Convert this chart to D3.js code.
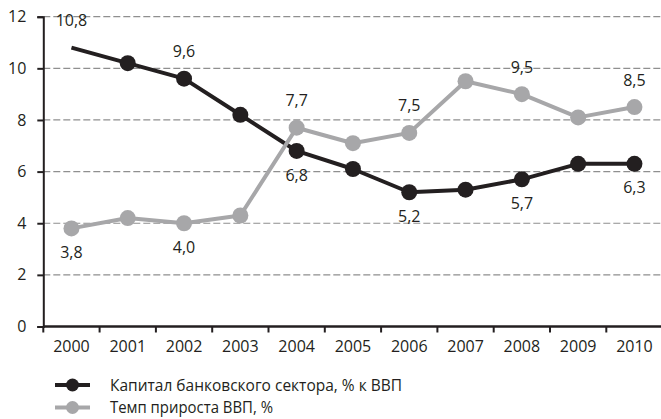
<!DOCTYPE html>
<html>
<head>
<meta charset="utf-8">
<script src="https://cdn.jsdelivr.net/npm/d3@7"></script>
<style>
  body { margin: 0; background: #fff; }
  svg { display: block; font-family: "Open Sans", sans-serif; }
</style>
</head>
<body>
<svg id="chart" width="661" height="419"></svg>
<script>
// data
const years = ["2000", "2001", "2002", "2003", "2004", "2005", "2006", "2007", "2008", "2009", "2010"];
const capital = [10.8, 10.2, 9.6, 8.2, 6.8, 6.1, 5.2, 5.3, 5.7, 6.3, 6.3];
const gdp = [3.8, 4.2, 4.0, 4.3, 7.7, 7.1, 7.5, 9.5, 9.0, 8.1, 8.5];
// printed value labels (only every other year is labelled)
const capitalLabels = ["10,8", null, "9,6", null, "6,8", null, "5,2", null, "5,7", null, "6,3"];
const gdpLabels = ["3,8", null, "4,0", null, "7,7", null, "7,5", null, "9,5", null, "8,5"];
const yTicks = [0, 2, 4, 6, 8, 10, 12];
const seriesNames = ["Капитал банковского сектора, % к ВВП", "Темп прироста ВВП, %"];

const ink = "#231f20";
const grey = "#a7a7a9";

const svg = d3.select("#chart");

const x = d3.scaleBand().domain(years).range([43.3, 662.6]).padding(0);
const y = d3.scaleLinear().domain([0, 12]).range([326.5, 16.7]);
const bw = x.bandwidth();
const cx = d => x(d) + bw / 2;

// dashed grid
svg.append("g").selectAll("line")
    .data(yTicks.filter(t => t > 0))
    .join("line")
    .attr("x1", 43.3).attr("x2", 661)
    .attr("y1", d => y(d)).attr("y2", d => y(d))
    .attr("stroke", "#8f8f8f")
    .attr("stroke-width", 1.2)
    .attr("stroke-dasharray", "7,3");

// y axis
const yAxis = svg.append("g")
    .attr("transform", "translate(43.3,0)")
    .call(d3.axisLeft(y).tickValues(yTicks).tickSize(6).tickPadding(11).tickFormat(d3.format("d")));
yAxis.select(".domain").attr("stroke", ink).attr("stroke-width", 2);
yAxis.selectAll(".tick line").attr("stroke", ink).attr("stroke-width", 2);
yAxis.selectAll(".tick text").attr("fill", ink).style("font-size", "16px").attr("font-family", "Open Sans");

// x axis: labels at band centres, ticks on band edges
const xAxis = svg.append("g")
    .attr("transform", "translate(0," + y(0) + ")")
    .call(d3.axisBottom(x).tickSize(6).tickPadding(8).tickSizeOuter(0));
xAxis.select(".domain").attr("stroke", ink).attr("stroke-width", 2.4)
    .attr("d", "M43.3,0H661");
xAxis.selectAll(".tick line")
    .attr("x1", -bw / 2).attr("x2", -bw / 2)
    .attr("stroke", ink).attr("stroke-width", 2);
xAxis.selectAll(".tick text").attr("fill", ink).style("font-size", "16px").attr("font-family", "Open Sans");

const line = d3.line().x((d, i) => cx(years[i])).y(d => y(d));

function drawSeries(values, other, labels, colour, skipFirstMarker) {
    const g = svg.append("g");
    g.append("path")
        .datum(values)
        .attr("d", line)
        .attr("fill", "none")
        .attr("stroke", colour)
        .attr("stroke-width", 4)
        .attr("stroke-linejoin", "round");
    g.selectAll("circle")
        .data(values.map((v, i) => ({ v, i })).filter(d => !(skipFirstMarker && d.i === 0)))
        .join("circle")
        .attr("cx", d => cx(years[d.i]))
        .attr("cy", d => y(d.v))
        .attr("r", 8)
        .attr("fill", colour);
    // label goes on the side away from the other line
    g.selectAll("text")
        .data(values.map((v, i) => ({ v, i, t: labels[i] })).filter(d => d.t))
        .join("text")
        .attr("x", d => cx(years[d.i]))
        .attr("y", d => y(d.v) + (d.v > other[d.i] ? -27 : 24))
        .attr("dy", "0.35em")
        .attr("text-anchor", "middle")
        .attr("fill", ink)
        .style("font-size", "16px")
        .text(d => d.t);
}

// the first capital point is drawn without a marker in the original
drawSeries(capital, gdp, capitalLabels, ink, true);
drawSeries(gdp, capital, gdpLabels, grey, false);

// legend (text is a bit condensed in the original)
const legend = svg.append("g");
const legendWidths = [292, 163];
[ink, grey].forEach((c, i) => {
    const ly = 385 + i * 22.5;
    legend.append("line")
        .attr("x1", 55).attr("x2", 90).attr("y1", ly).attr("y2", ly)
        .attr("stroke", c).attr("stroke-width", 4);
    legend.append("circle")
        .attr("cx", 72.5).attr("cy", ly).attr("r", 6.5).attr("fill", c);
    legend.append("text")
        .attr("x", 110).attr("y", ly).attr("dy", "0.35em")
        .attr("fill", ink)
        .style("font-size", "16.5px")
        .attr("textLength", legendWidths[i])
        .attr("lengthAdjust", "spacingAndGlyphs")
        .text(seriesNames[i]);
});
</script>
</body>
</html>
